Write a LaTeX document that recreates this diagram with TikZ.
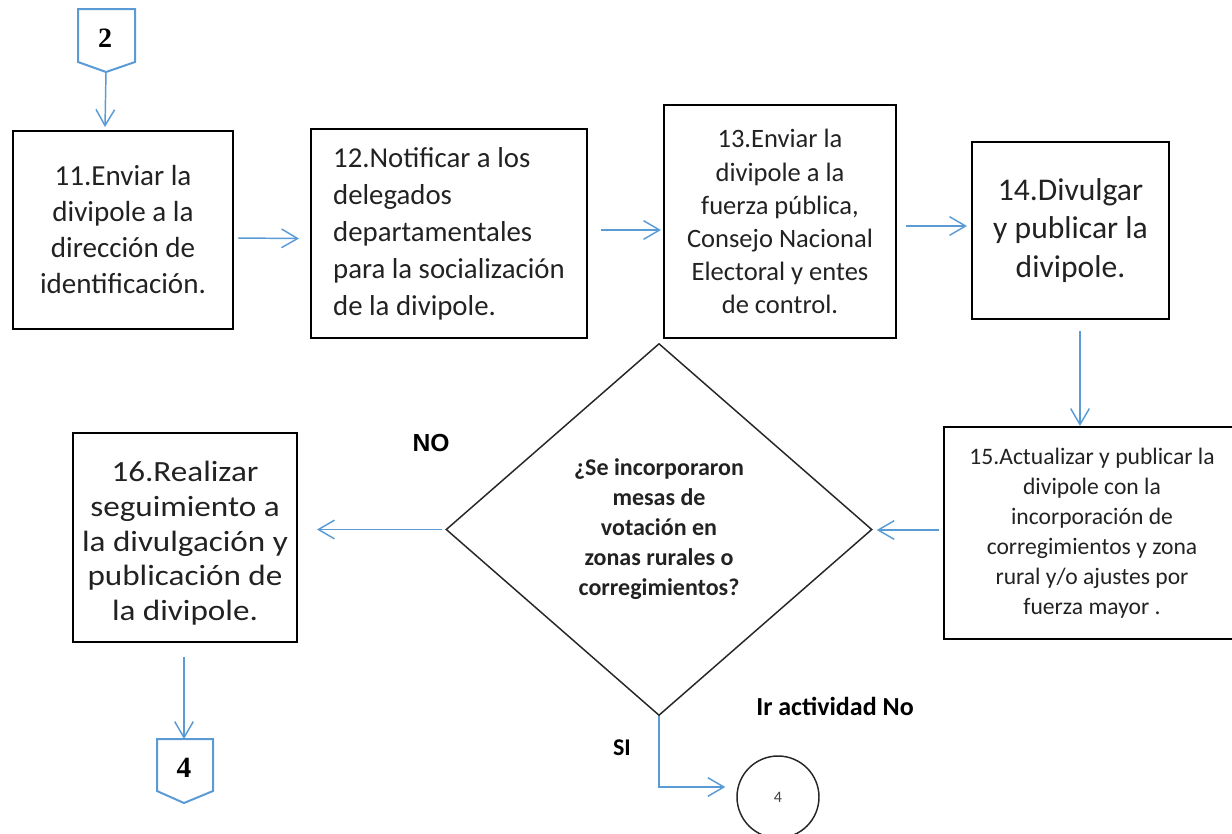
\documentclass[tikz,border=0pt]{standalone}
\usepackage{fontspec}
\setmainfont{Carlito}
\newfontfamily\arialf{Liberation Sans}
\newfontfamily\timesf{Liberation Serif}
\newfontfamily\widef[FakeStretch=1.13]{Carlito}
\usetikzlibrary{arrows.meta,calc,shapes.geometric}
\definecolor{lblue}{RGB}{91,155,213}
\definecolor{txt}{RGB}{34,34,34}
\tikzset{
  box/.style={draw=black, line width=1.5pt, inner sep=0pt, align=center, text=txt},
  dims/.style 2 args={minimum width=#1*0.75pt, minimum height=#2*0.75pt},
  arr/.style={draw=lblue, line width=1.1pt, -{Straight Barb[length=12pt,width=14pt]}},
  off/.style={draw=lblue, line width=1.5pt, line join=miter},
  lbl/.style={inner sep=0pt, text=black},
}
\begin{document}
\begin{tikzpicture}[x=0.75pt,y=-0.75pt]
\useasboundingbox (0,0) rectangle (1232,833);
% off-page connector 2
\draw[off] (78,9) -- (135,9) -- (135,62) -- (106,72) -- (78,62) -- cycle;
\node[lbl, font=\timesf\bfseries\fontsize{21}{22}\selectfont] (c2) at (105,38) {2};
\coordinate (c2tip) at (106,72);
% off-page connector 4
\draw[off] (157,739) -- (213,739) -- (213,791) -- (184,803) -- (157,791) -- cycle;
\node[lbl, font=\timesf\bfseries\fontsize{22}{24}\selectfont] (c4) at (184,768) {4};
\coordinate (c4top) at (184,739);

% boxes
\node[box, dims={220}{198}, font=\fontsize{21.8}{27}\selectfont] (b11) at (123,230)
  {11.Enviar la\\divipole a la\\dirección de\\identificación.};
\node[box, dims={276}{209}, align=left, font=\fontsize{21.6}{27.7}\selectfont] (b12) at (449,233.5)
  {12.Notificar a los\\delegados\\departamentales\\para la socialización\\de la divipole.};
\node[box, dims={232}{233}, font=\fontsize{19.9}{24.8}\selectfont] (b13) at (780,221.5)
  {13.Enviar la\\divipole a la\\fuerza pública,\\Consejo Nacional\\Electoral y entes\\de control.};
\node[box, dims={197}{177}, font=\fontsize{23.7}{29}\selectfont] (b14) at (1070.5,230.5)
  {14.Divulgar\\y publicar la\\divipole.};
\node[box, dims={296}{212}, font=\fontsize{17.7}{22.5}\selectfont] (b15) at (1092,533)
  {15.Actualizar y publicar la\\divipole con la\\incorporación de\\corregimientos y zona\\rural y/o ajustes por\\fuerza mayor .};
\node[box, dims={224}{209}] (b16) at (185,537.5) {};
\node[lbl, align=center, text=txt, font=\widef\fontsize{22}{26}\selectfont] (t16) at ($(b16.center)+(0,6)$)
  {16.Realizar\\seguimiento a\\la divulgación y\\publicación de\\la divipole.};

% decision
\node[draw=black!85, line width=1.1pt, diamond, dims={426}{372}, inner sep=0pt, align=center,
  text=txt, font=\bfseries\fontsize{18}{22.5}\selectfont] (d) at (659,529.5)
  {¿Se incorporaron\\mesas de\\votación en\\zonas rurales o\\corregimientos?};

% circle connector
\node[circle, draw=black!85, line width=1.1pt, minimum size=82*0.75pt, inner sep=0pt,
  text=black!75, font=\fontsize{12}{14}\selectfont] (circ) at (778,797) {4};

% labels
\node[lbl, font=\arialf\bfseries\fontsize{18.5}{20}\selectfont] (lno) at (431,443) {NO};
\node[lbl, font=\bfseries\fontsize{18}{20}\selectfont] (lsi) at (622,748) {SI};
\node[lbl, font=\bfseries\fontsize{19.5}{22}\selectfont] (lir) at (835,706) {Ir actividad No};

% connectors
\draw[arr] (c2tip) -- ($(b11.north)+(-18,-3)$);
\draw[arr] ($(b11.east)+(4,8)$) -- ($(b12.west)+(-11,5)$);
\draw[arr] ($(b12.east)+(13,-3.5)$) -- ($(b13.west)+(-2,8.5)$);
\draw[arr] ($(b13.east)+(9,4.5)$) -- ($(b14.west)+(-4,-4.5)$);
\draw[arr] ($(b14.south)+(9.5,11)$) -- ($(b15.north)+(-12,0)$);
\draw[arr] ($(b15.west)+(-4,-3)$) -- ($(d.east)+(4,0.5)$);
\draw[arr] ($(d.west)+(-3,0)$) -- ($(b16.east)+(19,-8)$);
\draw[arr] ($(b16.south)+(-1,14)$) -- (c4top);
\draw[arr] (d.south) |- ($(circ.west)+(-11,-10)$);
\end{tikzpicture}
\end{document}
